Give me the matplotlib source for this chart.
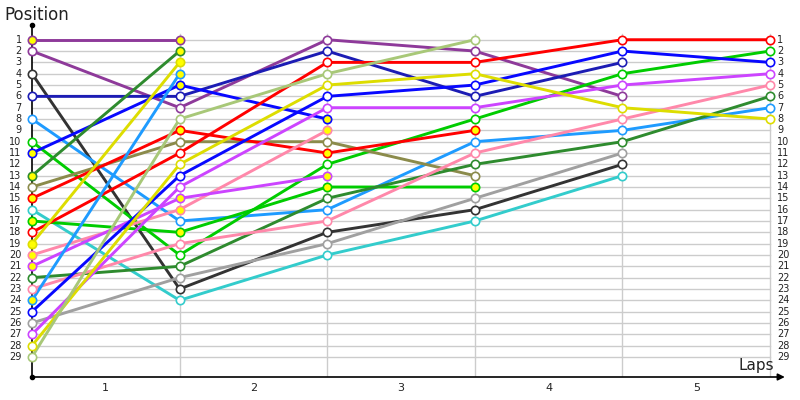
import matplotlib
matplotlib.use("Agg")
import matplotlib.pyplot as plt

laps = [0, 1, 2, 3, 4, 5]
lap_labels = ["1", "2", "3", "4", "5"]
positions = list(range(1, 30))

# driver position per lap (None = not running)
purple_a = [1, 1]
purple_b = [2, 7, 1, 2, 6]
black = [4, 23, 18, 16, 12]
dark_blue = [6, 6, 2, 6, 3]
light_blue_a = [8, 17, 16, 10, 9, 7]
green_a = [10, 20, 12, 8, 4, 2]
blue_a = [11, 5, 8]
dark_green_a = [13, 2]
olive = [14, 10, 10, 13]
red_a = [15, 9, 11, 9]
cyan = [16, 24, 20, 17, 13]
green_b = [17, 18, 14, 14]
red_b = [18, 11, 3, 3, 1, 1]
yellow_a = [19, 3]
pink_a = [20, 16, 9]
violet_a = [21, 15, 13]
dark_green_b = [22, 21, 15, 12, 10, 6]
pink_b = [23, 19, 17, 11, 8, 5]
light_blue_b = [24, 4]
blue_b = [25, 13, 6, 5, 2, 3]
gray = [26, 22, 19, 15, 11]
violet_b = [27, 14, 7, 7, 5, 4]
yellow_b = [28, 12, 5, 4, 7, 8]
light_green = [29, 8, 4, 1]

drivers = [
    (purple_a, "#8E3A9A", True),
    (purple_b, "#8E3A9A", False),
    (black, "#333333", False),
    (dark_blue, "#1C1CB4", False),
    (light_blue_a, "#1E9BFF", False),
    (green_a, "#00CC00", False),
    (blue_a, "#0808FF", True),
    (dark_green_a, "#2E8B2E", True),
    (olive, "#8B8B4B", False),
    (red_a, "#FF0000", True),
    (cyan, "#33CCCC", False),
    (green_b, "#00CC00", True),
    (red_b, "#FF0000", False),
    (yellow_a, "#DDDD00", True),
    (pink_a, "#FF88AA", True),
    (violet_a, "#CC44FF", True),
    (dark_green_b, "#2E8B2E", False),
    (pink_b, "#FF88AA", False),
    (light_blue_b, "#1E9BFF", True),
    (blue_b, "#0808FF", False),
    (gray, "#A0A0A0", False),
    (violet_b, "#CC44FF", False),
    (yellow_b, "#DDDD00", False),
    (light_green, "#A8C878", False),
]

fig = plt.figure(figsize=(8, 4), dpi=100)
ax = fig.add_axes([0.04, 0.0575, 0.941, 0.88])
ax.set_xlim(0, 5.1)
ax.set_ylim(30.77, -0.3)
ax.axis("off")

# grid
for p in positions:
    ax.plot([0, 5], [p, p], color="#CCCCCC", lw=1.0, zorder=1)
for x in laps[1:]:
    ax.plot([x, x], [0.5, 30.77], color="#CCCCCC", lw=1.0, zorder=1)

# axes lines
ax.plot([0, 0], [-0.3, 30.77], color="black", lw=1.2, zorder=5, clip_on=False)
ax.plot([0], [-0.3], marker="o", color="black", ms=3, zorder=5, clip_on=False)
ax.plot([0], [30.77], marker="o", color="black", ms=3, zorder=5, clip_on=False)
ax.annotate("", xy=(5.1, 30.77), xytext=(0, 30.77),
            arrowprops=dict(arrowstyle="-|>", color="black", lw=1.2,
                            mutation_scale=10, shrinkA=0, shrinkB=0),
            annotation_clip=False, zorder=5)

# lines and markers
for vals, col, filled in drivers:
    xs = laps[:len(vals)]
    ax.plot(xs, vals, color=col, lw=2.1, zorder=3, solid_capstyle="round")
for vals, col, filled in drivers:
    xs = laps[:len(vals)]
    ax.plot(xs, vals, ls="none", marker="o", ms=6.0, mec=col, mew=1.2,
            mfc="#FFFF00" if filled else "white", zorder=6, clip_on=False)

# tick labels
for p in positions:
    ax.text(-0.07, p, str(p), ha="right", va="center", fontsize=7, color="#222222")
    ax.text(5.05, p, str(p), ha="left", va="center", fontsize=7, color="#222222")
for i, lab in enumerate(lap_labels):
    ax.text(i + 0.5, 31.7, lab, ha="center", va="center", fontsize=8, color="#222222",
            clip_on=False)

fig.text(0.006, 0.962, "Position", fontsize=12, ha="left", va="center", color="#222222")
fig.text(0.968, 0.087, "Laps", fontsize=11, ha="right", va="center", color="#222222")

fig.savefig("out.png", dpi=100)
